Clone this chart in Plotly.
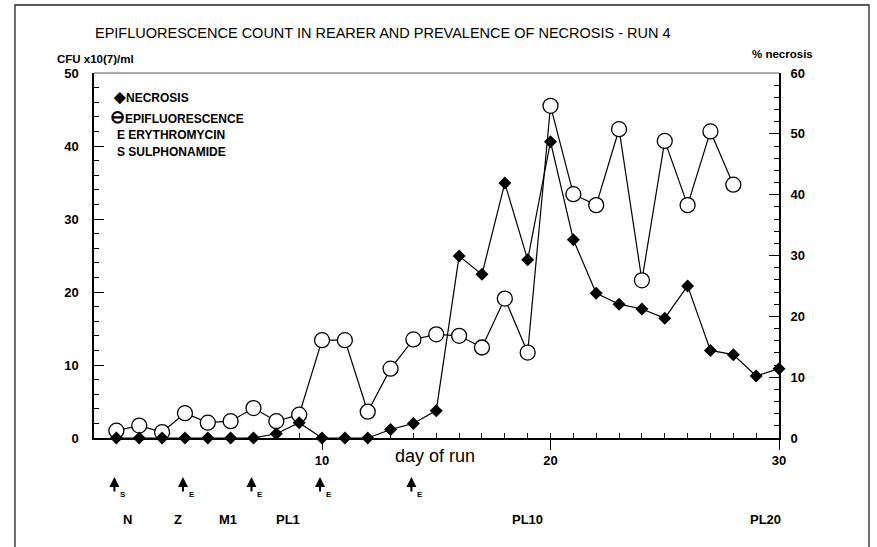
import plotly.graph_objects as go

# Day of run for each series
epi_days = list(range(1, 29))
# Epifluorescence count, CFU x10(7)/ml (left axis)
epi_cfu = [1.0, 1.7, 0.8, 3.4, 2.1, 2.3, 4.1, 2.3, 3.2, 13.4,
           13.4, 3.6, 9.5, 13.5, 14.2, 14.0, 12.4, 19.1, 11.7, 45.5,
           33.4, 31.9, 42.3, 21.6, 40.7, 31.9, 42.0, 34.7]

nec_days = list(range(1, 31))
# Prevalence of necrosis, % (right axis)
nec_pct = [0, 0, 0, 0, 0, 0, 0, 0.7, 2.5, 0,
           0, 0, 1.4, 2.4, 4.5, 29.9, 26.9, 41.9, 29.3, 48.7,
           32.6, 23.8, 22.0, 21.2, 19.7, 25.0, 14.4, 13.7, 10.2, 11.4]

# Antibiotic treatments: day and drug code (S = sulphonamide, E = erythromycin)
treat_days = [1, 4, 7, 10, 14]
treat_drug = ["S", "E", "E", "E", "E"]

# Larval stage markers along the run
stage_days = [1.5, 3.7, 5.9, 8.5, 19.0, 29.4]
stage_names = ["N", "Z", "M1", "PL1", "PL10", "PL20"]

W, H = 877, 547
ML, MR, MT, MB = 94, 98, 73, 109
PW, PH = W - ML - MR, H - MT - MB

FONT = "Liberation Sans, Arial, sans-serif"
NBSP = "\u00a0"


def px(x):
    return (x - ML) / PW


def py(y):
    return (H - MB - y) / PH


fig = go.Figure()

fig.add_trace(go.Scatter(
    x=epi_days, y=epi_cfu, mode="lines+markers", name="EPIFLUORESCENCE",
    line=dict(color="black", width=1.2),
    marker=dict(symbol="circle", size=15, color="white",
                line=dict(color="black", width=1.3)),
    yaxis="y", showlegend=False, cliponaxis=False,
))

fig.add_trace(go.Scatter(
    x=nec_days, y=nec_pct, mode="lines+markers", name="NECROSIS",
    line=dict(color="black", width=1.2),
    marker=dict(symbol="diamond", size=10, color="black"),
    yaxis="y2", showlegend=False, cliponaxis=False,
))

tick_font = dict(family=FONT, size=13, color="black", weight="bold")

fig.update_layout(
    width=W, height=H,
    margin=dict(l=ML, r=MR, t=MT, b=MB),
    paper_bgcolor="white", plot_bgcolor="white",
    font=dict(family=FONT, color="black"),
    xaxis=dict(
        # starting just past 0 keeps the unlabelled origin tick out of range
        range=[0.02, 30], showgrid=False, zeroline=False,
        showline=True, linecolor="black", linewidth=1.6,
        tickmode="linear", tick0=0, dtick=10,
        ticks="outside", ticklen=10, tickwidth=1.4, tickcolor="black",
        tickfont=tick_font,
        minor=dict(dtick=1, tick0=0, ticks="inside", ticklen=5,
                   tickwidth=1.2, tickcolor="black", showgrid=False),
    ),
    yaxis=dict(
        range=[0, 50], showgrid=False, zeroline=False,
        showline=True, linecolor="black", linewidth=1.6,
        tickmode="linear", tick0=0, dtick=10,
        ticks="inside", ticklen=10, tickwidth=1.4,
        tickcolor="black", ticksuffix=NBSP * 3, tickfont=tick_font,
        minor=dict(dtick=2, tick0=0, ticks="inside", ticklen=5,
                   tickwidth=1.2, tickcolor="black", showgrid=False),
    ),
    yaxis2=dict(
        range=[0, 60], overlaying="y", side="right", showgrid=False,
        zeroline=False, showline=True, linecolor="black", linewidth=1.6,
        tickmode="linear", tick0=0, dtick=10,
        ticks="inside", ticklen=10, tickwidth=1.4,
        tickcolor="black", tickprefix=NBSP * 2, tickfont=tick_font,
        minor=dict(dtick=2, tick0=0, ticks="inside", ticklen=5,
                   tickwidth=1.2, tickcolor="black", showgrid=False),
    ),
)

shapes = [
    # top edge of the plotting area
    dict(type="line", xref="paper", yref="paper", x0=0, x1=1, y0=1, y1=1,
         line=dict(color="#555", width=1)),
    # outer frame of the figure
    dict(type="rect", xref="paper", yref="paper",
         x0=px(15), x1=px(869), y0=py(5), y1=py(560),
         line=dict(color="#222", width=1.3)),
]
fig.update_layout(shapes=shapes)

ann = []


def text(x, y, s, size=12, weight="bold", xanchor="center", **kw):
    ann.append(dict(x=px(x), y=py(y), xref="paper", yref="paper", text=s,
                    showarrow=False, xanchor=xanchor, yanchor="middle",
                    font=dict(family=FONT, size=size, color="black",
                              weight=weight), **kw))


text(383, 33, "EPIFLUORESCENCE COUNT IN REARER AND PREVALENCE OF NECROSIS - RUN 4",
     size=14.5, weight="normal")
text(55, 59, "CFU x10(7)/ml", size=11.5, xanchor="left")
text(750, 54, "% necrosis", size=11.5, xanchor="left")
text(435, 456, "day of run", size=18, weight="normal")

# in-plot key
text(111, 97, '<span style="font-size:15px">◆</span>NECROSIS', size=12,
     xanchor="left")
text(108, 117, '<span style="font-size:18px">⊖</span>EPIFLUORESCENCE', size=12,
     xanchor="left")
text(115, 135, "E ERYTHROMYCIN", size=12, xanchor="left")
text(115, 152, "S SULPHONAMIDE", size=12, xanchor="left")

# treatment arrows with drug subscripts
for d, drug in zip(treat_days, treat_drug):
    ann.append(dict(x=d, y=py(477), xref="x", yref="paper", text="",
                    showarrow=True, ax=0, ay=16, axref="pixel", ayref="pixel",
                    arrowhead=2, arrowsize=1, arrowwidth=2,
                    arrowcolor="black", xshift=-2))
    ann.append(dict(x=d, y=py(494), xref="x", yref="paper", text=drug,
                    showarrow=False, xanchor="left", yanchor="middle",
                    xshift=2,
                    font=dict(family=FONT, size=8, color="black",
                              weight="bold")))

# larval stage labels
for d, name in zip(stage_days, stage_names):
    ann.append(dict(x=d, y=py(519), xref="x", yref="paper", text=name,
                    showarrow=False, xanchor="center", yanchor="middle",
                    font=dict(family=FONT, size=13, color="black",
                              weight="bold")))

fig.update_layout(annotations=ann)

fig.write_html("out.html")
